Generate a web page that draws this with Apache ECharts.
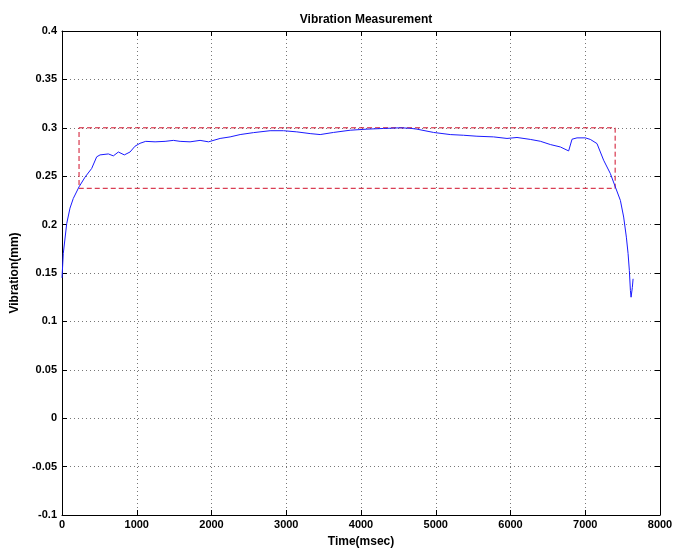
<!DOCTYPE html>
<html>
<head>
<meta charset="utf-8">
<script src="https://cdn.jsdelivr.net/npm/echarts@6/dist/echarts.min.js"></script>
<style>
  html, body { margin: 0; padding: 0; background: #fff; }
  #chart { width: 673px; height: 553px; }
</style>
</head>
<body>
<div id="chart"></div>
<script>
  // measured trace (time in msec, vibration in mm)
  var timeMs = [0, 17, 63, 107, 151, 228, 308, 397, 464, 509, 620, 687, 754, 834, 910, 977, 1044, 1120, 1245, 1379,
    1490, 1580, 1713, 1847, 1960, 2115, 2249, 2383, 2561, 2784, 2963, 3141, 3320, 3454, 3632, 3855, 4079, 4302, 4525, 4659,
    4748, 4971, 5194, 5372, 5551, 5774, 5953, 6087, 6265, 6399, 6533, 6667, 6778, 6823, 6890, 7001, 7068, 7157, 7246, 7336,
    7403, 7470, 7514, 7550, 7573, 7590, 7604, 7613, 7630, 7640];
  var vibration = [0.145, 0.170, 0.201, 0.217, 0.227, 0.239, 0.249, 0.258, 0.270, 0.272, 0.273, 0.271, 0.275, 0.272, 0.275, 0.281, 0.284, 0.286, 0.2855, 0.286,
    0.287, 0.286, 0.2855, 0.287, 0.2855, 0.289, 0.2906, 0.293, 0.295, 0.297, 0.297, 0.2958, 0.294, 0.293, 0.2952, 0.2975, 0.2986, 0.2993, 0.300, 0.2995,
    0.2986, 0.2952, 0.293, 0.2923, 0.2913, 0.2906, 0.289, 0.290, 0.288, 0.2861, 0.2827, 0.2802, 0.2761, 0.2882, 0.2896, 0.2896, 0.288, 0.2837, 0.2665, 0.2527,
    0.2388, 0.225, 0.2078, 0.187, 0.170, 0.1526, 0.132, 0.125, 0.135, 0.144];

  // dashed highlight box corners
  var boxT = [228, 7400, 7400, 228, 228];
  var boxV = [0.3, 0.3, 0.2375, 0.2375, 0.3];

  var font = 'Liberation Sans, Arial, sans-serif';
  var chart = echarts.init(document.getElementById('chart'));

  var gridLine = { show: true, lineStyle: { type: [1, 3], color: '#777', width: 1 } };
  var boxAxis = { show: true, onZero: false, lineStyle: { color: '#000', width: 1 } };
  var inTick = { show: true, inside: true, length: 5, lineStyle: { color: '#000' } };

  var option = {
    backgroundColor: '#fff',
    animation: false,
    title: {
      text: 'Vibration Measurement',
      left: 361, top: 9, textAlign: 'center',
      textStyle: { fontFamily: font, fontSize: 12, fontWeight: 'bold', color: '#000' }
    },
    grid: { left: 62, right: 13, top: 31, bottom: 38, containLabel: false, outerBoundsMode: 'none' },
    xAxis: [{
      type: 'value', min: 0, max: 8000, interval: 1000,
      name: 'Time(msec)', nameLocation: 'middle', nameGap: 21,
      nameTextStyle: { fontFamily: font, fontSize: 12, fontWeight: 'bold', color: '#000' },
      axisLine: boxAxis, axisTick: inTick, splitLine: gridLine,
      axisLabel: {
        fontFamily: font, fontSize: 11, fontWeight: 'bold', color: '#000', margin: 4,
        formatter: function (v) { return String(v); }
      }
    }, {
      type: 'value', min: 0, max: 8000, interval: 1000, position: 'top',
      axisLine: boxAxis, axisTick: inTick, splitLine: { show: false }, axisLabel: { show: false }
    }],
    yAxis: [{
      type: 'value', min: -0.1, max: 0.4, interval: 0.05,
      name: 'Vibration(mm)', nameLocation: 'middle', nameGap: 40,
      nameTextStyle: { fontFamily: font, fontSize: 12, fontWeight: 'bold', color: '#000' },
      axisLine: boxAxis, axisTick: inTick, splitLine: gridLine,
      axisLabel: {
        fontFamily: font, fontSize: 11, fontWeight: 'bold', color: '#000', margin: 5,
        formatter: function (v) { return String(Math.round(v * 100) / 100); }
      }
    }, {
      type: 'value', min: -0.1, max: 0.4, interval: 0.05, position: 'right',
      axisLine: boxAxis, axisTick: inTick, splitLine: { show: false }, axisLabel: { show: false }
    }],
    series: [{
      type: 'line',
      data: timeMs.map(function (t, i) { return [t, vibration[i]]; }),
      showSymbol: false,
      lineStyle: { color: '#1a1aff', width: 1 },
      z: 3
    }, {
      type: 'line',
      data: boxT.map(function (t, i) { return [t, boxV[i]]; }),
      showSymbol: false,
      lineStyle: { color: '#d0102a', width: 1, type: [5, 3] },
      z: 2
    }]
  };
  chart.setOption(option);
</script>
</body>
</html>
